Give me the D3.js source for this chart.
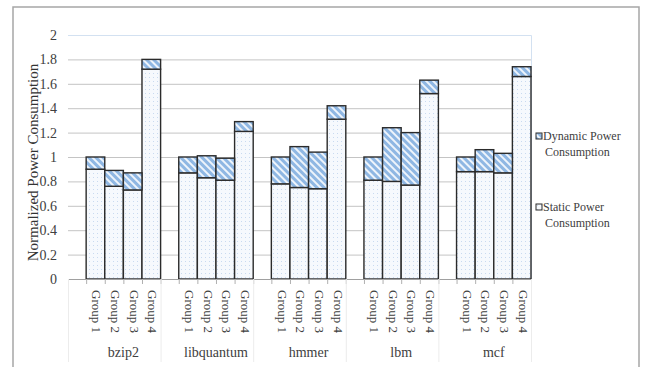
<!DOCTYPE html>
<html><head><meta charset="utf-8">
<script src="https://cdn.jsdelivr.net/npm/d3@7"></script>
<style>body{margin:0;background:#fff}svg{display:block}</style>
</head><body>
<script>
const categories = ["bzip2","libquantum","hmmer","lbm","mcf"];
const groups = ["Group 1","Group 2","Group 3","Group 4"];
// static power per category (rows) x group (cols)
const staticValues = [
  [0.90,0.76,0.73,1.72],
  [0.87,0.83,0.81,1.21],
  [0.78,0.75,0.74,1.31],
  [0.81,0.80,0.77,1.52],
  [0.88,0.88,0.87,1.66]
];
// dynamic power (stacked on top)
const dynamicValues = [
  [0.10,0.13,0.14,0.08],
  [0.13,0.18,0.18,0.08],
  [0.22,0.335,0.30,0.11],
  [0.19,0.44,0.43,0.11],
  [0.12,0.18,0.16,0.08]
];
const yTicks = [0,0.2,0.4,0.6,0.8,1,1.2,1.4,1.6,1.8,2];
const seriesNames = ["Dynamic Power Consumption","Static Power Consumption"];

(function(){
const W=648,H=367;
const svg=d3.select("body").append("svg").attr("width",W).attr("height",H);
const defs=svg.append("defs");
const pd=defs.append("pattern").attr("id","dots").attr("patternUnits","userSpaceOnUse").attr("width",4).attr("height",4);
pd.append("rect").attr("width",4).attr("height",4).attr("fill","#f6f9fd");
pd.append("rect").attr("x",1).attr("y",1).attr("width",1).attr("height",1).attr("fill","#c9daf0");
const ph=defs.append("pattern").attr("id","hatch").attr("patternUnits","userSpaceOnUse").attr("width",5).attr("height",5).attr("patternTransform","rotate(-45)");
ph.append("rect").attr("width",5).attr("height",5).attr("fill","#eef4fb");
ph.append("rect").attr("x",0).attr("width",3).attr("height",5).attr("fill","#8fb7e3");

const font="'Liberation Serif','Times New Roman',serif";
svg.append("rect").attr("x",13).attr("y",7).attr("width",626).attr("height",362)
  .attr("fill","none").attr("stroke","#a6a6a6").attr("stroke-width",1.5);

const pLeft=68,pRight=531,pTop=35,pBottom=279;
const y=d3.scaleLinear().domain([0,2]).range([pBottom,pTop]);
const x0=d3.scaleBand().domain(categories).range([pLeft,pRight]).padding(0);
const bw=x0.bandwidth();
const x1=d3.scaleBand().domain(groups).range([bw*0.196,bw]).padding(0);

svg.append("g").selectAll("line").data(yTicks.filter(d=>d>0&&d<2)).join("line")
  .attr("x1",pLeft).attr("x2",pRight).attr("y1",d=>y(d)+0.5).attr("y2",d=>y(d)+0.5)
  .attr("stroke","#c4c4c4").attr("stroke-width",1);
svg.append("path").attr("d",`M${pLeft},${y(2)+0.5}H${pRight+0.5}V${pBottom}`)
  .attr("fill","none").attr("stroke","#d3e1f1").attr("stroke-width",1);

const yAxis=d3.axisLeft(y).tickValues(yTicks).tickSize(0).tickPadding(11).tickFormat(d=>String(d));
const ya=svg.append("g").attr("transform",`translate(${pLeft},0)`).call(yAxis);
ya.select(".domain").remove();
ya.selectAll("text").attr("font-family",font).attr("font-size",14).attr("fill","#404040");

svg.append("text").attr("transform",`translate(38,${(60+265)/2}) rotate(-90)`)
  .attr("text-anchor","middle").attr("font-family",font).attr("font-size",15)
  .attr("fill","#333").text("Normalized Power Consumption");

const data=[];
categories.forEach((c,i)=>groups.forEach((g,j)=>data.push({c,g,s:staticValues[i][j],d:dynamicValues[i][j]})));
const bars=svg.append("g");
bars.selectAll("rect.s").data(data).join("rect").attr("class","s")
  .attr("x",d=>x0(d.c)+x1(d.g)).attr("width",x1.bandwidth())
  .attr("y",d=>y(d.s)).attr("height",d=>y(0)-y(d.s))
  .attr("fill","url(#dots)").attr("stroke","#2b2b2b").attr("stroke-width",1.4);
bars.selectAll("rect.d").data(data).join("rect").attr("class","d")
  .attr("x",d=>x0(d.c)+x1(d.g)).attr("width",x1.bandwidth())
  .attr("y",d=>y(d.s+d.d)).attr("height",d=>y(d.s)-y(d.s+d.d))
  .attr("fill","url(#hatch)").attr("stroke","#2b2b2b").attr("stroke-width",1.4);

svg.append("line").attr("x1",pLeft).attr("x2",pRight).attr("y1",pBottom+0.5).attr("y2",pBottom+0.5)
  .attr("stroke","#a0a0a0").attr("stroke-width",1);
const tickXs=[];
categories.forEach(c=>{tickXs.push(x0(c));groups.forEach(g=>tickXs.push(x0(c)+x1(g)));});
tickXs.push(pRight);
svg.append("g").selectAll("line").data(tickXs).join("line")
  .attr("x1",d=>d+0.5).attr("x2",d=>d+0.5).attr("y1",pBottom).attr("y2",pBottom+5)
  .attr("stroke","#b0b0b0");
svg.append("g").selectAll("line").data(categories.map(c=>x0(c)).concat([pRight])).join("line")
  .attr("x1",d=>d+0.5).attr("x2",d=>d+0.5).attr("y1",pBottom).attr("y2",362)
  .attr("stroke","#ececec");

svg.append("g").selectAll("text").data(data).join("text")
  .attr("transform",d=>`translate(${x0(d.c)+x1(d.g)+x1.bandwidth()/2},290) rotate(90)`)
  .attr("dominant-baseline","middle").attr("font-family",font).attr("font-size",13)
  .attr("fill","#404040").text(d=>d.g);
svg.append("g").selectAll("text").data(categories).join("text")
  .attr("x",c=>x0(c)+x1.range()[0]+(bw-x1.range()[0])/2).attr("y",357)
  .attr("text-anchor","middle").attr("font-family",font).attr("font-size",14)
  .attr("fill","#404040").text(c=>c);

const leg=svg.append("g");
const legItems=[{n:seriesNames[0],f:"url(#hatch)",y:136},{n:seriesNames[1],f:"url(#dots)",y:207}];
legItems.forEach(it=>{
  leg.append("rect").attr("x",536).attr("y",it.y-3).attr("width",6).attr("height",6)
    .attr("fill",it.f).attr("stroke","#2b2b2b").attr("stroke-width",1);
  const words=it.n.split(" ");
  leg.append("text").attr("x",543).attr("y",it.y+4).attr("font-family",font).attr("font-size",12)
    .attr("fill","#404040").text(words.slice(0,2).join(" "));
  leg.append("text").attr("x",545).attr("y",it.y+20).attr("font-family",font).attr("font-size",12)
    .attr("fill","#404040").text(words.slice(2).join(" "));
});
})();
</script>
</body></html>
